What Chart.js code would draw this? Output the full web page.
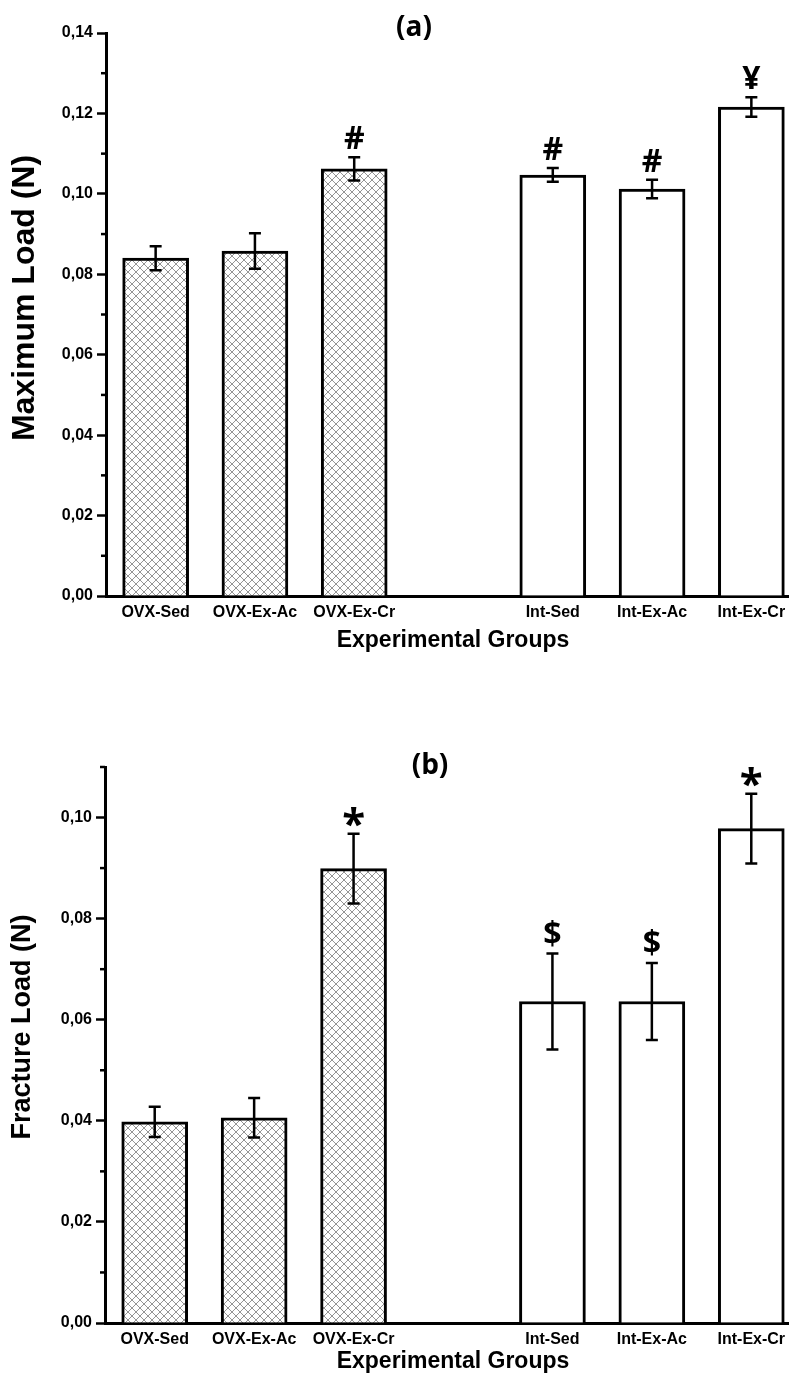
<!DOCTYPE html>
<html>
<head>
<meta charset="utf-8">
<script src="https://cdn.jsdelivr.net/npm/chart.js@4.4.1/dist/chart.umd.min.js"></script>
<style>
  html, body { margin:0; padding:0; background:#fff; }
  #wrap { position:relative; width:789px; height:1378px; overflow:hidden; }
  #wrap canvas { position:absolute; left:0; display:block; }
</style>
</head>
<body>
<div id="wrap">
  <canvas id="chart-a" width="801" height="680" style="top:0"></canvas>
  <canvas id="chart-b" width="801" height="698" style="top:680px"></canvas>
</div>
<script>
// groups (empty slot = gap between OVX and Int groups)
const groups = ['OVX-Sed', 'OVX-Ex-Ac', 'OVX-Ex-Cr', '', 'Int-Sed', 'Int-Ex-Ac', 'Int-Ex-Cr'];
const hatched = [true, true, true, false, false, false, false];

// (a) maximum load
const maxLoad    = [0.0840, 0.0858, 0.1062, null, 0.1047, 0.1012, 0.1216];
const maxLoadErr = [0.0030, 0.0044, 0.0029, null, 0.0017, 0.0023, 0.0024];
const maxLoadSig = ['', '', '#', '', '#', '#', '¥'];
const maxTicks   = [0, 0.02, 0.04, 0.06, 0.08, 0.10, 0.12, 0.14];
const maxMinor   = [0.01, 0.03, 0.05, 0.07, 0.09, 0.11, 0.13];

// (b) fracture load
const fracLoad    = [0.0398, 0.0406, 0.0899, null, 0.0636, 0.0636, 0.0978];
const fracLoadErr = [0.0030, 0.0039, 0.0069, null, 0.0095, 0.0076, 0.0069];
const fracLoadSig = ['', '', '*', '', '$', '$', '*'];
const fracTicks   = [0, 0.02, 0.04, 0.06, 0.08, 0.10];
const fracMinor   = [0.01, 0.03, 0.05, 0.07, 0.09, 0.11];

const AXIS_FONT = "'Liberation Sans', Arial, sans-serif";
const NOTE_FONT = "'Open Sans', 'DejaVu Sans', sans-serif";

// cross-hatch fill
function hatchPattern() {
  const n = 8;
  const c = document.createElement('canvas');
  c.width = n; c.height = n;
  const g = c.getContext('2d');
  g.fillStyle = '#fff'; g.fillRect(0, 0, n, n);
  g.strokeStyle = '#959595'; g.lineWidth = 1;
  g.beginPath();
  g.moveTo(-1, -1); g.lineTo(n + 1, n + 1);
  g.moveTo(n + 1, -1); g.lineTo(-1, n + 1);
  g.stroke();
  return g.createPattern(c, 'repeat');
}

function makeChart(id, o) {
  const ctx = document.getElementById(id).getContext('2d');
  const pat = hatchPattern();

  const extras = {
    id: 'extras',
    afterDatasetsDraw(chart) {
      const c = chart.ctx, y = chart.scales.y;
      const meta = chart.getDatasetMeta(0);
      c.save();
      c.strokeStyle = '#000'; c.lineWidth = 2.5;
      meta.data.forEach((bar, i) => {
        const v = o.values[i], e = o.errs[i];
        if (v == null) return;
        const x = bar.x, top = y.getPixelForValue(v + e), bot = y.getPixelForValue(v - e);
        c.beginPath();
        c.moveTo(x, top); c.lineTo(x, bot);
        c.moveTo(x - 6, top); c.lineTo(x + 6, top);
        c.moveTo(x - 6, bot); c.lineTo(x + 6, bot);
        c.stroke();
        const s = o.sig[i];
        if (s) {
          c.fillStyle = '#000';
          c.font = 'bold ' + (s === '*' ? 42 : 32) + 'px ' + NOTE_FONT;
          c.textAlign = 'center'; c.textBaseline = 'alphabetic';
          // sit the glyph's visible bottom a few px above the error cap
          const m = c.measureText(s);
          c.fillText(s, x, top - o.sigGap - m.actualBoundingBoxDescent);
        }
      });
      c.restore();
    },
    afterDraw(chart) {
      const c = chart.ctx, y = chart.scales.y, area = chart.chartArea;
      c.save();
      // minor ticks
      c.strokeStyle = '#000'; c.lineWidth = 2.5;
      o.minor.forEach(v => {
        const py = y.getPixelForValue(v);
        c.beginPath(); c.moveTo(area.left - 5, py); c.lineTo(area.left, py); c.stroke();
      });
      c.fillStyle = '#000';
      c.textAlign = 'center'; c.textBaseline = 'middle';
      // panel letter
      c.font = 'bold 28px ' + NOTE_FONT;
      c.fillText(o.panel, o.panelX, o.panelY);
      // x title
      c.font = 'bold 23px ' + AXIS_FONT;
      c.fillText('Experimental Groups', o.xTitleX, o.xTitleY);
      // y title
      c.translate(o.yTitleX, o.yTitleY);
      c.rotate(-Math.PI / 2);
      c.font = 'bold ' + o.yTitleSize + 'px ' + AXIS_FONT;
      c.fillText(o.yTitle, 0, 0);
      c.restore();
    }
  };

  return new Chart(ctx, {
    type: 'bar',
    data: {
      labels: groups,
      datasets: [{
        data: o.values,
        backgroundColor: hatched.map(h => h ? pat : '#fff'),
        borderColor: '#000',
        borderWidth: 3,
        borderSkipped: 'start',
        barThickness: 66
      }]
    },
    options: {
      responsive: false,
      devicePixelRatio: 1,
      animation: false,
      layout: { padding: { top: o.padTop, left: 0, right: 0, bottom: 0 } },
      plugins: { legend: { display: false }, tooltip: { enabled: false } },
      scales: {
        x: {
          z: 1,
          grid: { display: false, drawTicks: false },
          border: { display: true, color: '#000', width: 3 },
          ticks: { color: '#000', padding: 7, font: { family: AXIS_FONT, size: 16, weight: 'bold' } },
          afterFit: s => { s.height = o.xHeight; }
        },
        y: {
          z: 1,
          min: 0, max: o.yMax,
          grid: { drawOnChartArea: false, drawTicks: true, tickLength: 9, tickWidth: 2.5, tickColor: '#000' },
          border: { display: true, color: '#000', width: 3 },
          afterBuildTicks: s => { s.ticks = o.ticks.map(v => ({ value: v })); },
          ticks: {
            color: '#000', padding: 4,
            font: { family: AXIS_FONT, size: 16, weight: 'bold' },
            callback: v => Number(v).toFixed(2).replace('.', ',')
          },
          afterFit: s => { s.width = o.yWidth; }
        }
      }
    },
    plugins: [extras]
  });
}

makeChart('chart-a', {
  values: maxLoad, errs: maxLoadErr, sig: maxLoadSig, ticks: maxTicks, minor: maxMinor,
  yMax: 0.14, padTop: 33, xHeight: 84, yWidth: 106, sigGap: 8,
  panel: '(a)', panelX: 414, panelY: 28,
  xTitleX: 453, xTitleY: 641,
  yTitle: 'Maximum Load (N)', yTitleSize: 32, yTitleX: 25, yTitleY: 298
});

makeChart('chart-b', {
  values: fracLoad, errs: fracLoadErr, sig: fracLoadSig, ticks: fracTicks, minor: fracMinor,
  yMax: 0.11, padTop: 87, xHeight: 55, yWidth: 105, sigGap: 7,
  panel: '(b)', panelX: 430, panelY: 86,
  xTitleX: 453, xTitleY: 682,
  yTitle: 'Fracture Load (N)', yTitleSize: 27, yTitleX: 23, yTitleY: 347
});
</script>
</body>
</html>
